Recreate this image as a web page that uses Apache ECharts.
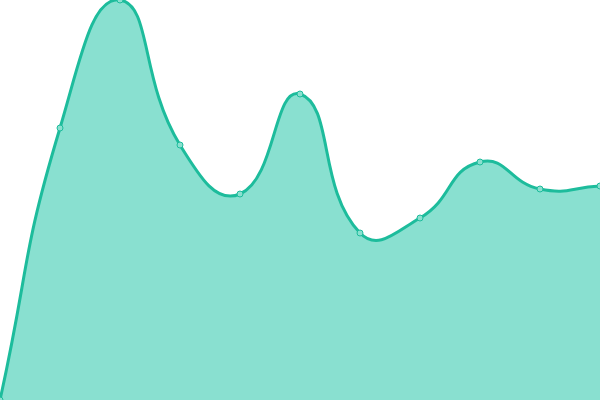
<!DOCTYPE html>
<html><head><meta charset="utf-8">
<script src="https://cdn.jsdelivr.net/npm/echarts@6/dist/echarts.min.js"></script>
<style>html,body{margin:0;padding:0;background:#fff}#c{width:600px;height:400px}</style>
</head><body><div id="c"></div>
<script>
const categories = ['1','2','3','4','5','6','7','8','9','10','11'];
const values = [0, 272, 400, 255, 206, 306, 167, 182, 238, 211, 214];
const SMOOTH = 0.5;
const chart = echarts.init(document.getElementById('c'));

function smoothPath(pts) {
  const n = pts.length;
  const cps = pts.map((p, i) => {
    const prev = pts[Math.max(0, i - 1)];
    const next = pts[Math.min(n - 1, i + 1)];
    const vx = (next[0] - prev[0]) * SMOOTH, vy = (next[1] - prev[1]) * SMOOTH;
    let d0 = Math.hypot(p[0] - prev[0], p[1] - prev[1]);
    let d1 = Math.hypot(p[0] - next[0], p[1] - next[1]);
    const s = d0 + d1;
    if (s) { d0 /= s; d1 /= s; }
    return { cin: [p[0] - vx * d0, p[1] - vy * d0], cout: [p[0] + vx * d1, p[1] + vy * d1] };
  });
  let d = 'M' + pts[0][0] + ' ' + pts[0][1];
  for (let i = 1; i < n; i++) {
    const a = cps[i - 1].cout, b = cps[i].cin, p = pts[i];
    d += ' C' + a[0] + ' ' + a[1] + ' ' + b[0] + ' ' + b[1] + ' ' + p[0] + ' ' + p[1];
  }
  return d;
}

chart.setOption({
  animation: false,
  grid: {left: 0, right: 0, top: 0, bottom: 0},
  xAxis: {type: 'category', data: categories, boundaryGap: false, show: false},
  yAxis: {type: 'value', min: 0, max: 400, show: false},
  series: [{
    type: 'custom',
    data: values.map((v, i) => [i, v]),
    z: 1,
    renderItem: function (params, api) {
      if (params.dataIndex !== 0) return null;
      const pts = values.map((v, i) => api.coord([i, v]));
      const base = api.coord([0, 0])[1];
      const line = smoothPath(pts);
      const area = line + ' L' + pts[pts.length - 1][0] + ' ' + base + ' L' + pts[0][0] + ' ' + base + ' Z';
      return {
        type: 'group',
        children: [
          {type: 'path', shape: {pathData: area}, style: {fill: '#89e0d0'}},
          {type: 'path', shape: {pathData: line}, style: {fill: 'none', stroke: '#1dbc9c', lineWidth: 3}}
        ]
      };
    }
  }, {
    type: 'line',
    data: values,
    z: 3,
    symbol: 'circle',
    symbolSize: 6,
    lineStyle: {opacity: 0},
    itemStyle: {color: '#8ae0cf', borderColor: '#1dbc9c', borderWidth: 1}
  }]
});
</script></body></html>
